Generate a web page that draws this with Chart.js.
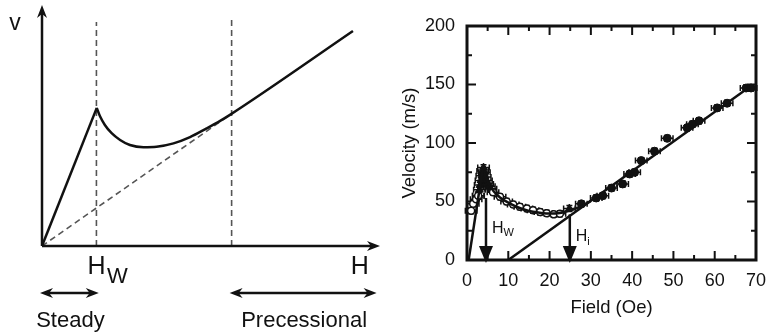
<!DOCTYPE html>
<html>
<head>
<meta charset="utf-8">
<script src="https://cdn.jsdelivr.net/npm/chart.js@4.4.1/dist/chart.umd.min.js"></script>
<style>
body { margin: 0; background: #fff; }
#wrap { position: relative; width: 767px; height: 336px; }
canvas { position: absolute; top: 0; }
#schematic { left: 0; }
#measured { left: 385px; }
</style>
</head>
<body>
<div id="wrap">
	<canvas id="schematic" width="385" height="336"></canvas>
	<canvas id="measured" width="382" height="336"></canvas>
</div>
<script>
const ink = '#111';
const fontFamily = "'Liberation Sans', Arial, Helvetica, sans-serif";

// ---- schematic (left), arbitrary units 0..100 ----
const riseH = [0, 16.2];
const riseV = [0, 57.3];
const wallH = [16.2, 17.2, 18.6, 20.6, 23.1, 26.0, 30.0, 33.9, 38.9, 43.8, 48.7, 52.7, 55.6, 92.0];
const wallV = [57.3, 53.7, 50.2, 46.8, 44.0, 41.9, 41.0, 41.2, 42.6, 45.2, 48.8, 51.9, 54.4, 89.2];
const linearH = [0, 55.6];
const linearV = [0, 54.4];
const markerH = [16.1, 56.1];
const markerTop = [92.9, 93.8];
const regionNames = ['Steady', 'Precessional'];
const regionFrom = [0, 56.1];
const regionTo = [16.8, 99];

// ---- measured data (right) ----
const openH = [1.0, 1.5, 2.2, 2.7, 6.3, 8.0, 9.6, 11.2, 12.8, 14.5, 16.0, 17.7, 19.3, 21.0, 22.5];
const openV = [42, 48, 52, 55, 58, 54, 50, 47.5, 45.5, 44, 42.5, 41, 40, 39, 39.5];
const triH = [2.8, 3.0, 3.2, 3.4, 3.6, 3.8, 4.0, 4.2, 4.4, 4.7, 5.0, 5.4, 5.8, 24.8];
const triV = [55, 60, 64, 68, 72, 76, 79, 75, 71, 68, 65, 63, 61, 44];
const fillH = [27.7, 31.3, 32.9, 35.0, 37.7, 39.4, 40.6, 42.2, 45.4, 48.5, 53.3, 54.6, 56.2, 60.6, 63.0, 67.6, 68.8];
const fillV = [48, 53, 55, 61.5, 65, 73.5, 75, 85, 93, 104, 113, 116, 119, 130, 134, 147, 147];
const errH = 1.4;   // Oe
const errV = 2.5;   // m/s
const steepH = [0.4, 3.8];
const steepV = [0, 78];
const fitH = [3.8, 5, 6.5, 8, 10, 12, 14, 16, 18, 20, 22, 24, 26, 28, 30];
const fitV = [78, 67, 58.5, 53.5, 49, 45.5, 43, 41.2, 40.2, 39.7, 40, 41.5, 43.7, 46.5, 50.6];
const precH = [10, 68.5];
const precV = [0, 148];
const arrowH = [4.6, 24.9];
const arrowTop = [53, 39];
const arrowLabelV = [27, 19.6];
const arrowSub = ['W', 'i'];

const toPoints = (xs, ys) => xs.map((v, i) => ({ x: v, y: ys[i] }));

Chart.defaults.font.family = fontFamily;
Chart.defaults.color = ink;
Chart.defaults.animation = false;

const arrowHead = (ctx, tipX, tipY, dx, dy, len, half) => {
	// dx, dy: unit direction the arrow points to
	const bx = tipX - dx * len, by = tipY - dy * len;
	const nx = -dy, ny = dx;
	ctx.beginPath();
	ctx.moveTo(tipX, tipY);
	ctx.lineTo(bx + nx * half, by + ny * half);
	ctx.lineTo(tipX - dx * len * 0.7, tipY - dy * len * 0.7);
	ctx.lineTo(bx - nx * half, by - ny * half);
	ctx.closePath();
	ctx.fill();
}

const schematicDecor = {
	id: 'schematicDecor',
	afterDatasetsDraw(chart) {
		const { ctx, scales: { x, y } } = chart;
		const x0 = x.getPixelForValue(0), y0 = y.getPixelForValue(0);
		const xEnd = x.getPixelForValue(100), yEnd = y.getPixelForValue(100);
		ctx.save();
		ctx.strokeStyle = ink;
		ctx.fillStyle = ink;
		ctx.lineWidth = 2.5;
		ctx.setLineDash([]);

		// axes with arrow heads
		ctx.beginPath();
		ctx.moveTo(x0, y0);
		ctx.lineTo(xEnd - 8, y0);
		ctx.moveTo(x0, y0);
		ctx.lineTo(x0, yEnd + 8);
		ctx.stroke();
		arrowHead(ctx, xEnd, y0, 1, 0, 13, 5);
		arrowHead(ctx, x0, yEnd, 0, -1, 13, 5);

		// axis letters
		ctx.textAlign = 'center';
		ctx.textBaseline = 'alphabetic';
		ctx.font = `23px ${fontFamily}`;
		ctx.fillText('v', x0 - 27, yEnd + 25);
		ctx.font = `25px ${fontFamily}`;
		const hw = x.getPixelForValue(markerH[0]);
		ctx.fillText('H', hw, y0 + 28);
		ctx.fillText('H', x.getPixelForValue(94), y0 + 28);
		ctx.font = `22px ${fontFamily}`;
		ctx.fillText('W', hw + 21, y0 + 37);

		// regime arrows
		const ay = y0 + 47;
		regionNames.forEach((name, i) => {
			const a = x.getPixelForValue(regionFrom[i]);
			const b = x.getPixelForValue(regionTo[i]);
			ctx.beginPath();
			ctx.moveTo(a + 6, ay);
			ctx.lineTo(b - 6, ay);
			ctx.stroke();
			arrowHead(ctx, a - 2, ay, -1, 0, 13, 5);
			arrowHead(ctx, b, ay, 1, 0, 13, 5);
			ctx.font = `22px ${fontFamily}`;
			ctx.textAlign = 'center';
			ctx.fillText(name, (a + b) / 2, ay + 34);
		});
		ctx.restore();
	}
};

new Chart(document.getElementById('schematic'), {
	type: 'scatter',
	data: {
		datasets: [
			{ data: toPoints(riseH, riseV), showLine: true, borderColor: ink, borderWidth: 2.5, pointRadius: 0 },
			{ data: toPoints(wallH, wallV), showLine: true, borderColor: ink, borderWidth: 2.5, pointRadius: 0, cubicInterpolationMode: 'monotone' },
			{ data: toPoints(linearH, linearV), showLine: true, borderColor: '#555', borderWidth: 1.6, borderDash: [6, 4], pointRadius: 0 },
			{ data: toPoints([markerH[0], markerH[0]], [0, markerTop[0]]), showLine: true, borderColor: '#555', borderWidth: 1.6, borderDash: [6, 4], pointRadius: 0 },
			{ data: toPoints([markerH[1], markerH[1]], [0, markerTop[1]]), showLine: true, borderColor: '#555', borderWidth: 1.6, borderDash: [6, 4], pointRadius: 0 },
		]
	},
	options: {
		responsive: false,
		devicePixelRatio: 1,
		layout: { padding: { left: 42, right: 5, top: 5, bottom: 90 } },
		plugins: { legend: { display: false }, tooltip: { enabled: false } },
		scales: {
			x: { type: 'linear', min: 0, max: 100, display: false },
			y: { type: 'linear', min: 0, max: 100, display: false },
		}
	},
	plugins: [schematicDecor],
});

// ---- right panel ----
const measuredDecor = {
	id: 'measuredDecor',
	beforeDatasetsDraw(chart) {
		const { ctx, scales: { x, y } } = chart;
		ctx.save();
		ctx.strokeStyle = ink;
		ctx.lineWidth = 1.5;
		ctx.setLineDash([]);
		const bars = (xs, ys) => xs.forEach((h, i) => {
			const px = x.getPixelForValue(h), py = y.getPixelForValue(ys[i]);
			const l = x.getPixelForValue(h - errH), r = x.getPixelForValue(h + errH);
			const t = y.getPixelForValue(ys[i] + errV), b = y.getPixelForValue(ys[i] - errV);
			ctx.beginPath();
			ctx.moveTo(l, py); ctx.lineTo(r, py);
			ctx.moveTo(l, py - 3); ctx.lineTo(l, py + 3);
			ctx.moveTo(r, py - 3); ctx.lineTo(r, py + 3);
			ctx.moveTo(px, t); ctx.lineTo(px, b);
			ctx.moveTo(px - 3, t); ctx.lineTo(px + 3, t);
			ctx.moveTo(px - 3, b); ctx.lineTo(px + 3, b);
			ctx.stroke();
		});
		bars(openH, openV);
		bars(triH, triV);
		bars(fillH, fillV);

		// frame and inward ticks
		const left = x.getPixelForValue(x.min), right = x.getPixelForValue(x.max);
		const top = y.getPixelForValue(y.max), bottom = y.getPixelForValue(y.min);
		ctx.lineWidth = 2;
		ctx.beginPath();
		x.ticks.forEach(t => {
			if (t.value <= x.min || t.value >= x.max) return;
			const px = x.getPixelForValue(t.value);
			const len = t.value % 10 === 0 ? 9 : 5;
			ctx.moveTo(px, bottom); ctx.lineTo(px, bottom - len);
			ctx.moveTo(px, top); ctx.lineTo(px, top + len);
		});
		y.ticks.forEach(t => {
			if (t.value <= y.min || t.value >= y.max) return;
			const py = y.getPixelForValue(t.value);
			const len = t.value % 50 === 0 ? 9 : 5;
			ctx.moveTo(left, py); ctx.lineTo(left + len, py);
			ctx.moveTo(right, py); ctx.lineTo(right - len, py);
		});
		ctx.stroke();
		ctx.lineWidth = 3;
		ctx.beginPath();
		ctx.rect(left, top, right - left, bottom - top);
		ctx.stroke();
		ctx.restore();
	},
	afterDraw(chart) {
		const { ctx, scales: { x, y } } = chart;
		ctx.save();
		ctx.strokeStyle = ink;
		ctx.fillStyle = ink;
		ctx.setLineDash([]);

		// H_W and H_i arrows
		const base = y.getPixelForValue(0);
		arrowH.forEach((h, i) => {
			const px = x.getPixelForValue(h);
			ctx.lineWidth = 2.5;
			ctx.beginPath();
			ctx.moveTo(px, y.getPixelForValue(arrowTop[i]));
			ctx.lineTo(px, base - 12);
			ctx.stroke();
			ctx.beginPath();
			ctx.moveTo(px, base + 3);
			ctx.lineTo(px - 7, base - 14);
			ctx.lineTo(px + 7, base - 14);
			ctx.closePath();
			ctx.fill();
			const ly = y.getPixelForValue(arrowLabelV[i]);
			ctx.textBaseline = 'middle';
			ctx.textAlign = 'left';
			ctx.font = `16px ${fontFamily}`;
			ctx.fillText('H', px + 6, ly);
			const w = ctx.measureText('H').width;
			ctx.font = `11px ${fontFamily}`;
			ctx.fillText(arrowSub[i], px + 6 + w, ly + 5);
		});
		ctx.restore();
	}
};

new Chart(document.getElementById('measured'), {
	type: 'scatter',
	data: {
		datasets: [
			{ data: toPoints(steepH, steepV), showLine: true, borderColor: ink, borderWidth: 2.5, pointRadius: 0 },
			{ data: toPoints(fitH, fitV), showLine: true, borderColor: ink, borderWidth: 2.5, pointRadius: 0, cubicInterpolationMode: 'monotone' },
			{ data: toPoints(precH, precV), showLine: true, borderColor: ink, borderWidth: 2.5, pointRadius: 0 },
			{ data: toPoints(openH, openV), pointStyle: 'circle', pointRadius: 3.5, backgroundColor: '#fff', borderColor: ink, borderWidth: 1.5 },
			{ data: toPoints(triH, triV), pointStyle: 'triangle', pointRadius: 4.5, backgroundColor: ink, borderColor: ink, borderWidth: 1 },
			{ data: toPoints(fillH, fillV), pointStyle: 'circle', pointRadius: 4, backgroundColor: ink, borderColor: ink, borderWidth: 1 },
		]
	},
	options: {
		responsive: false,
		devicePixelRatio: 1,
		layout: { padding: { left: 10, right: 11, top: 26, bottom: 13 } },
		plugins: { legend: { display: false }, tooltip: { enabled: false } },
		scales: {
			x: {
				type: 'linear', min: 0, max: 70,
				grid: { display: false },
				border: { display: false },
				ticks: {
					stepSize: 5, autoSkip: false, maxRotation: 0, padding: 2,
					font: { size: 18 },
					callback: v => v % 10 === 0 ? v : '',
				},
				title: { display: true, text: 'Field (Oe)', font: { size: 18.5 }, padding: { top: 4, bottom: 4 } },
				afterFit: s => { s.height = 63; s.paddingLeft = 0; s.paddingRight = 0; },
			},
			y: {
				type: 'linear', min: 0, max: 200,
				grid: { display: false },
				border: { display: false },
				ticks: {
					stepSize: 25, autoSkip: false, padding: 4,
					font: { size: 18 },
					callback: v => v % 50 === 0 ? v : '',
				},
				title: { display: true, text: 'Velocity (m/s)', font: { size: 18.5 }, padding: { top: 4, bottom: 4 } },
				afterFit: s => { s.width = 72; s.paddingTop = 0; s.paddingBottom = 0; },
			},
		}
	},
	plugins: [measuredDecor],
});
</script>
</body>
</html>
